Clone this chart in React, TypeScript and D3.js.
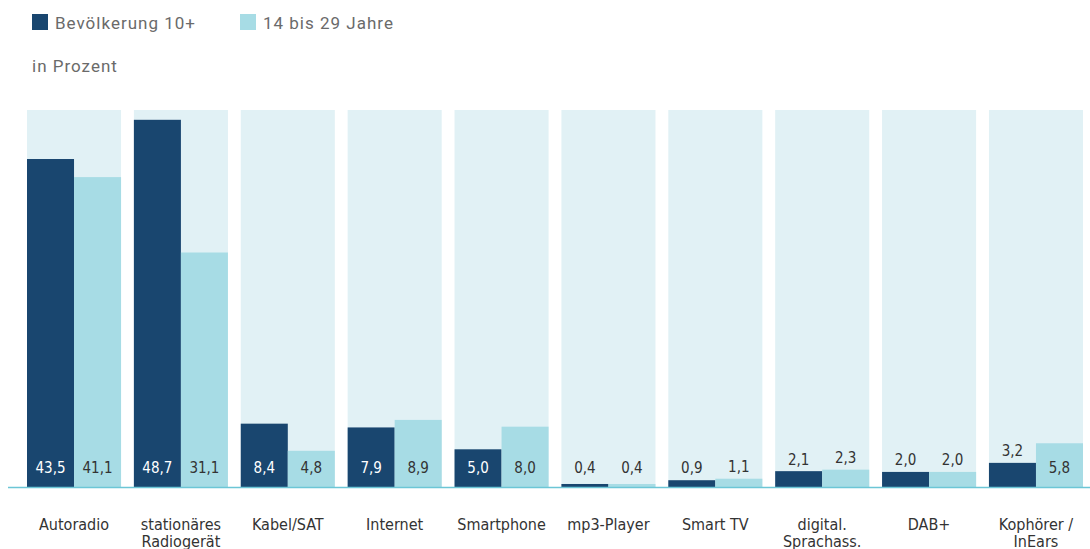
import React, { useEffect, useRef } from 'react';
import * as d3 from 'd3'

const categories = [
  ['Autoradio'],
  ['stationäres', 'Radiogerät'],
  ['Kabel/SAT'],
  ['Internet'],
  ['Smartphone'],
  ['mp3-Player'],
  ['Smart TV'],
  ['digital.', 'Sprachass.'],
  ['DAB+'],
  ['Kophörer /', 'InEars'],
]
const bev10 = [43.5, 48.7, 8.4, 7.9, 5.0, 0.4, 0.9, 2.1, 2.0, 3.2]
const jung = [41.1, 31.1, 4.8, 8.9, 8.0, 0.4, 1.1, 2.3, 2.0, 5.8]
const seriesNames = ['Bevölkerung 10+', '14 bis 29 Jahre']
const yMax = 50

const DARK = '#19466f'
const LIGHT = '#a7dce5'
const BAND = '#e1f1f5'
const COND = '"DejaVu Sans Condensed", "Liberation Sans Narrow", "Arial Narrow", sans-serif'

const App: React.FC = () => {
  const svgRef = useRef() as React.MutableRefObject<SVGSVGElement>

  useEffect(() => {
    const W = 1090, H = 549
    const baseline = 487
    const svg = d3.select(svgRef.current)
    svg.html('')
    svg.attr('width', W).attr('height', H).attr('viewBox', `0 0 ${W} ${H}`)

    const x = d3.scaleBand<number>()
      .domain(d3.range(categories.length))
      .range([27, 1083])
      .paddingInner(0.12)
      .paddingOuter(0)
    const sub = d3.scaleBand<number>().domain([0, 1]).range([0, x.bandwidth()])
    const y = d3.scaleLinear().domain([0, yMax]).range([baseline, 110])

    // legend
    const legend = svg.append('g')
    seriesNames.forEach((name, i) => {
      const lx = i === 0 ? 32 : 240
      legend.append('rect').attr('x', lx).attr('y', 14).attr('width', 16).attr('height', 16)
        .attr('fill', i === 0 ? DARK : LIGHT)
      legend.append('text').attr('x', lx + 23).attr('y', 29)
        .attr('font-family', 'Roboto, "Noto Sans", sans-serif').attr('font-size', 17)
        .attr('fill', '#6a6a6a').attr('letter-spacing', 1).text(name)
    })
    svg.append('text').attr('x', 32).attr('y', 72)
      .attr('font-family', 'Roboto, "Noto Sans", sans-serif').attr('font-size', 17)
      .attr('fill', '#6a6a6a').attr('letter-spacing', 1).text('in Prozent')

    const groups = svg.append('g').selectAll('g')
      .data(categories.map((c, i) => ({ c, i, vals: [bev10[i], jung[i]] })))
      .join('g')
      .attr('transform', d => `translate(${x(d.i)},0)`)

    groups.append('rect')
      .attr('x', 0).attr('y', y(yMax))
      .attr('width', x.bandwidth()).attr('height', baseline - y(yMax))
      .attr('fill', BAND)

    groups.each(function (d) {
      const g = d3.select(this)
      d.vals.forEach((v, j) => {
        const top = y(v)
        g.append('rect')
          .attr('x', sub(j)!).attr('y', top)
          .attr('width', sub.bandwidth()).attr('height', baseline - top)
          .attr('fill', j === 0 ? DARK : LIGHT)
        const inside = baseline - top > 31
        const ly = inside ? baseline - 19 : Math.min(baseline - 19, top - 12)
        g.append('text')
          .attr('x', sub(j)! + sub.bandwidth() / 2).attr('y', ly)
          .attr('dy', '0.36em').attr('text-anchor', 'middle')
          .attr('font-family', COND).attr('font-size', 15)
          .attr('fill', inside && j === 0 ? '#fff' : '#333')
          .text(d3.format('.1f')(v).replace('.', ','))
      })
      d.c.forEach((line, k) => {
        g.append('text')
          .attr('x', x.bandwidth() / 2).attr('y', 530 + k * 17)
          .attr('text-anchor', 'middle')
          .attr('font-family', COND).attr('font-size', 16)
          .attr('fill', '#333').text(line)
      })
    })

    svg.append('line')
      .attr('x1', 8).attr('x2', W).attr('y1', baseline + 0.5).attr('y2', baseline + 0.5)
      .attr('stroke', '#6cc6d6').attr('stroke-width', 1.5)
  }, [])

  return <svg ref={svgRef} style={{ position: 'absolute', left: 0, top: 0 }} />
}

export default App
